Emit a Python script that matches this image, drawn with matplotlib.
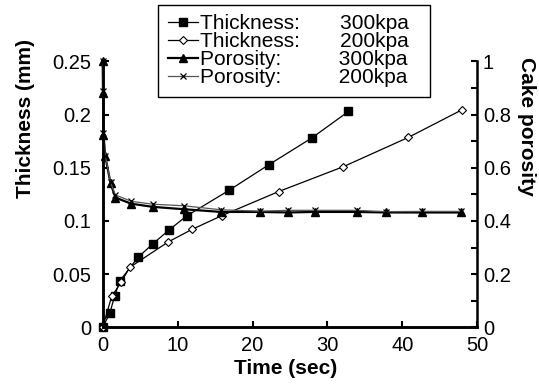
import matplotlib.pyplot as plt
from matplotlib.ticker import MultipleLocator

plt.rcParams['font.family'] = ['Liberation Sans', 'DejaVu Sans']

# thickness data (mm)
t_thick_300 = [0, 0.94, 1.6, 2.3, 4.7, 6.7, 8.85, 11.2, 16.9, 22.2, 27.9, 32.8]
thick_300 = [0, 0.013, 0.0295, 0.0437, 0.0657, 0.0785, 0.0915, 0.1047, 0.129, 0.153, 0.178, 0.203]
t_thick_200 = [0, 1.2, 2.5, 3.6, 8.75, 11.9, 15.9, 23.5, 32.1, 40.8, 48.0]
thick_200 = [0, 0.029, 0.0428, 0.0563, 0.0803, 0.092, 0.105, 0.1277, 0.151, 0.1786, 0.2047]

# cake porosity
t_por = [0, 0.05, 0.1, 0.35, 1.05, 1.7, 3.8, 6.7, 10.9, 15.8, 21.0, 24.8, 28.3, 33.9, 37.8, 42.6, 47.8]
por_300 = [1.0, 0.88, 0.725, 0.643, 0.542, 0.488, 0.465, 0.453, 0.444, 0.434, 0.434, 0.432, 0.434,
           0.434, 0.432, 0.432, 0.432]
por_200 = [1.0, 0.89, 0.73, 0.646, 0.545, 0.498, 0.474, 0.463, 0.457, 0.442, 0.437, 0.44, 0.44,
           0.44, 0.435, 0.436, 0.436]

labels = ["Thickness:       300kpa  ", "Thickness:       200kpa  ",
          "Porosity:          300kpa  ", "Porosity:          200kpa  "]

fig = plt.figure(figsize=(5.39, 3.85), dpi=100)
ax = fig.add_axes([0.1905, 0.1499, 0.695, 0.6904])
ax2 = ax.twinx()

l1, = ax.plot(t_thick_300, thick_300, color='black', lw=0.9, marker='s', ms=5.5,
              mfc='black', mec='black', clip_on=False)
l2, = ax.plot(t_thick_200, thick_200, color='black', lw=0.9, marker='D', ms=4.2,
              mfc='white', mec='black', mew=0.8, clip_on=False)
l3, = ax2.plot(t_por, por_300, color='black', lw=1.6, marker='^', ms=6,
               mfc='black', mec='black', clip_on=False)
l4, = ax2.plot(t_por, por_200, color='#555555', lw=0.9, marker='x', ms=5,
               mec='black', mew=0.9, clip_on=False)

ax.set_xlim(0, 50)
ax.set_ylim(0, 0.25)
ax2.set_ylim(0, 1)
ax.xaxis.set_major_locator(MultipleLocator(10))
ax2.yaxis.set_minor_locator(MultipleLocator(0.1))
ax.set_yticks([0, 0.05, 0.1, 0.15, 0.2, 0.25])
ax.set_yticklabels(['0', '0.05', '0.1', '0.15', '0.2', '0.25'])
ax2.set_yticks([0, 0.2, 0.4, 0.6, 0.8, 1.0])
ax2.set_yticklabels(['0', '0.2', '0.4', '0.6', '0.8', '1'])

for a in (ax, ax2):
    a.spines['top'].set_visible(False)
    for s in ('left', 'right', 'bottom'):
        a.spines[s].set_linewidth(1.8)
ax.spines['right'].set_visible(False)

ax.tick_params(axis='x', direction='in', length=4, width=1.5, labelsize=14.5, pad=6)
ax.tick_params(axis='y', direction='in', length=4, width=1.5, labelsize=14.5, pad=8)
ax2.tick_params(axis='y', which='both', direction='in', length=4, width=1.5, labelsize=14.5, pad=4)

ax.set_xlabel('Time (sec)', fontsize=15, fontweight='bold')
ax.xaxis.set_label_coords(0.489, -0.12)
ax.set_ylabel('Thickness (mm)', fontsize=15, fontweight='bold')
ax.yaxis.set_label_coords(-0.18, 0.785)
ax2.set_ylabel('Cake porosity', fontsize=15, fontweight='bold', rotation=270, va='top')
ax2.yaxis.set_label_coords(1.158, 0.755)

leg = ax2.legend([l1, l2, l3, l4], labels, loc='upper left',
                 bbox_to_anchor=(158.3 / 539, 1 - 5 / 385), bbox_transform=fig.transFigure,
                 borderaxespad=0, fontsize=15, frameon=True, fancybox=False,
                 handlelength=1.45, handletextpad=0.1, labelspacing=-0.05, borderpad=0.45,
                 edgecolor='black', framealpha=1)
leg.get_frame().set_linewidth(1.0)

plt.savefig('out.png', dpi=100)
